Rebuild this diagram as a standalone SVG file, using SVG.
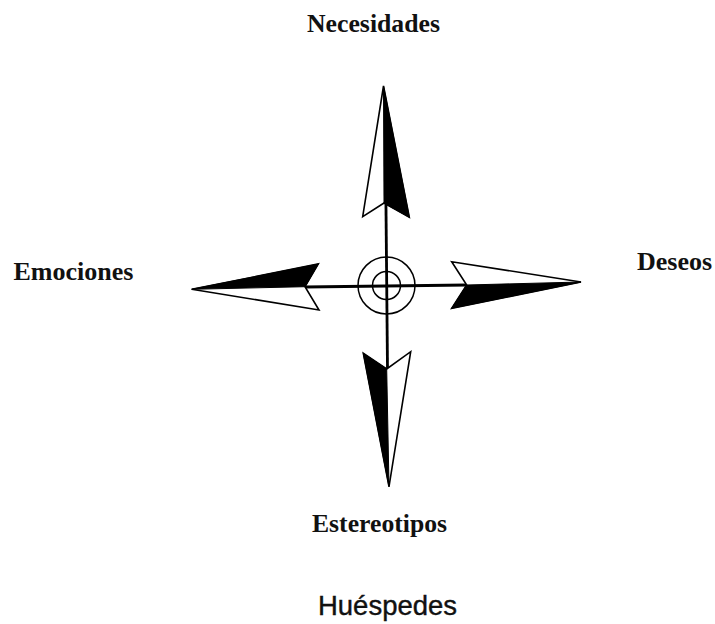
<svg xmlns="http://www.w3.org/2000/svg" width="715" height="624" viewBox="0 0 715 624">
<style>
.lbl{font-family:"Liberation Serif","Times New Roman",serif;font-weight:bold;font-size:26px;fill:#111}
.ttl{font-family:"Liberation Sans",Arial,sans-serif;font-size:28px;fill:#111;stroke:#111;stroke-width:0.4}
.wh{fill:#fff;stroke:#000;stroke-width:1.6;stroke-linejoin:miter}
.bk{fill:#000;stroke:#000;stroke-width:1;stroke-linejoin:miter}
.ln{stroke:#000;stroke-width:2.8;fill:none}
.ring{stroke:#000;stroke-width:1.5;fill:none}
</style>
<rect width="715" height="624" fill="#fff"/>
<g id="connectors">
<line class="ln" x1="305" y1="287" x2="467" y2="285"/>
<line class="ln" x1="385" y1="100" x2="387.5" y2="369"/>
</g>
<g id="center">
<circle class="ring" cx="386.5" cy="285.5" r="28.5"/>
<circle class="ring" cx="386.5" cy="285.5" r="14"/>
</g>
<g id="arrow-up">
<polygon class="wh" points="383.5,86 362.7,216.7 384,203 409.3,217.3"/>
<polygon class="bk" points="383.5,86 409.3,217.3 384,203"/>
</g>
<g id="arrow-right">
<polygon class="wh" points="581,282 451.7,261.7 466.7,285 451.7,308.3"/>
<polygon class="bk" points="581,282 451.7,308.3 466.7,285"/>
</g>
<g id="arrow-down">
<polygon class="wh" points="389,486.7 363.3,353.3 386.7,369 410.7,351.7"/>
<polygon class="bk" points="389,486.7 363.3,353.3 386.7,369"/>
</g>
<g id="arrow-left">
<polygon class="wh" points="191.7,289.3 318.3,264 305,286.7 319,310"/>
<polygon class="bk" points="191.7,289.3 318.3,264 305,286.7"/>
</g>
<g id="necesidades"><text class="lbl" x="307" y="31.5" textLength="133" lengthAdjust="spacingAndGlyphs">Necesidades</text></g>
<g id="emociones"><text class="lbl" x="13.5" y="279.5" textLength="120" lengthAdjust="spacingAndGlyphs">Emociones</text></g>
<g id="deseos"><text class="lbl" x="637" y="270" textLength="75" lengthAdjust="spacingAndGlyphs">Deseos</text></g>
<g id="estereotipos"><text class="lbl" x="312" y="531.5" textLength="135" lengthAdjust="spacingAndGlyphs">Estereotipos</text></g>
<g id="huespedes"><text class="ttl" x="318" y="615" textLength="139" lengthAdjust="spacingAndGlyphs">Huéspedes</text></g>
</svg>
